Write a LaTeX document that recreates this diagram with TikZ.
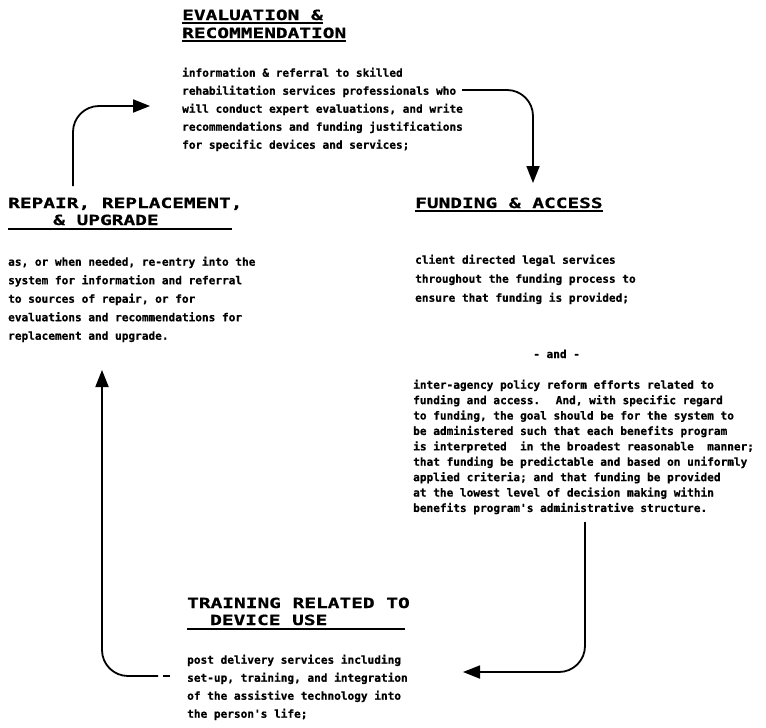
\documentclass[tikz,border=0pt]{standalone}
\usepackage{fontspec}
\usetikzlibrary{arrows.meta}
\newfontfamily\headf[FakeStretch=1.39,FakeBold=0.8]{DejaVu Sans Mono Bold}
\newfontfamily\bodyf[FakeBold=0.6]{DejaVu Sans Mono Bold}
\begin{document}
\begin{tikzpicture}[x=1pt,y=-1pt,
  head/.style={anchor=base west,inner sep=0pt,font=\headf\fontsize{14}{18}\selectfont},
  bodytxt/.style={anchor=north west,inner sep=0pt,align=left,font=\bodyf\fontsize{11.1}{18}\selectfont},
  uline/.style={line width=1.8pt},
  conn/.style={line width=1.8pt,rounded corners=26pt},
  arr/.style={conn,-{Triangle[length=17pt,width=13pt]}}]
\fill[white] (0,0) rectangle (766,728);
\useasboundingbox (0,0) rectangle (766,728);

% Evaluation & Recommendation
\node[head] (evh1) at (182,20) {EVALUATION \&};
\node[head] (evh2) at (182,38) {RECOMMENDATION};
\draw[uline] ([yshift=-3pt]evh1.base west) -- ([yshift=-3pt]evh1.base east);
\draw[uline] ([yshift=-3pt]evh2.base west) -- ([yshift=-3pt]evh2.base east);
\node[bodytxt] (evb) at (182,67.5) {information \& referral to skilled\\
rehabilitation services professionals who\\
will conduct expert evaluations, and write\\
recommendations and funding justifications\\
for specific devices and services;};

% Funding & Access
\node[head] (fuh) at (415,208) {FUNDING \& ACCESS};
\draw[uline] ([yshift=-3pt]fuh.base west) -- ([yshift=-3pt]fuh.base east);
\node[bodytxt,font=\bodyf\fontsize{11.1}{19}\selectfont] (fub) at (415,254.5) {client directed legal services\\
throughout the funding process to\\
ensure that funding is provided;};
\node[bodytxt,anchor=base west] (fand) at (533,358) {- and -};
\node[bodytxt,font=\bodyf\fontsize{11.1}{15.4}\selectfont] (fint) at (413,379.5) {inter-agency policy reform efforts related to\\
funding and access.~ And, with specific regard\\
to funding, the goal should be for the system to\\
be administered such that each benefits program\\
is interpreted~ in the broadest reasonable~ manner;\\
that funding be predictable and based on uniformly\\
applied criteria; and that funding be provided\\
at the lowest level of decision making within\\
benefits program's administrative structure.};

% Repair, Replacement & Upgrade
\node[head] (rph1) at (8,208) {REPAIR, REPLACEMENT,};
\node[head] (rph2) at (53,225) {\& UPGRADE};
\draw[uline] (8,229) -- (232,229);
\node[bodytxt,font=\bodyf\fontsize{11.1}{18.5}\selectfont] (rpb) at (8,256.5) {as, or when needed, re-entry into the\\
system for information and referral\\
to sources of repair, or for\\
evaluations and recommendations for\\
replacement and upgrade.};

% Training related to device use
\node[head] (trh1) at (187,608) {TRAINING RELATED TO};
\node[head] (trh2) at (210,625) {DEVICE USE};
\draw[uline] (187,629) -- (405,629);
\node[bodytxt] (trb) at (187,654.5) {post delivery services including\\
set-up, training, and integration\\
of the assistive technology into\\
the person's life;};

% Connectors
\coordinate (a1s) at (462,90);
\coordinate (a1e) at (533,183);
\draw[arr] (a1s) -| (a1e);

\coordinate (a2s) at (585,522);
\coordinate (a2e) at (463,672);
\draw[arr] (a2s) |- (a2e);

\coordinate (a3s) at (158,676);
\coordinate (a3e) at (102,370);
\draw[arr] (a3s) -| (a3e);
\draw[uline] (163,676) -- (170,676);

\coordinate (a4s) at (73,186);
\coordinate (a4e) at (150,106);
\draw[arr] (a4s) |- (a4e);
\end{tikzpicture}
\end{document}
